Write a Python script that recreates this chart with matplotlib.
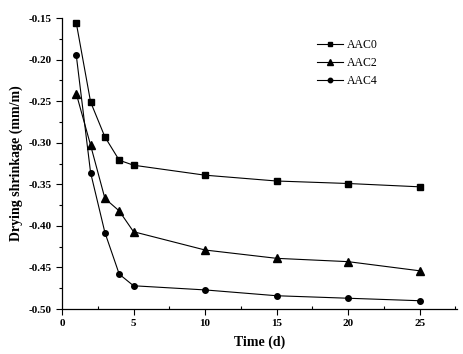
import matplotlib
matplotlib.use("Agg")
import matplotlib.pyplot as plt
from matplotlib.ticker import MultipleLocator

days = [1, 2, 3, 4, 5, 10, 15, 20, 25]
aac0 = [-0.156, -0.251, -0.293, -0.321, -0.327, -0.339, -0.346, -0.349, -0.353]
aac2 = [-0.241, -0.303, -0.367, -0.382, -0.407, -0.429, -0.439, -0.443, -0.454]
aac4 = [-0.195, -0.336, -0.408, -0.458, -0.472, -0.477, -0.484, -0.487, -0.490]

plt.rcParams["font.family"] = ["Liberation Serif", "DejaVu Serif"]

fig = plt.figure(figsize=(4.64, 3.54), dpi=100)
ax = fig.add_axes([0.1336, 0.127, 0.851, 0.822])

ax.plot(days, aac0, "k-", marker="s", markersize=4, linewidth=0.8, label="AAC0")
ax.plot(days, aac2, "k-", marker="^", markersize=5.5, linewidth=0.8, label="AAC2")
ax.plot(days, aac4, "k-", marker="o", markersize=4, linewidth=0.8, label="AAC4")

ax.set_xlim(0, 27.6)
ax.set_ylim(-0.50, -0.15)
ax.xaxis.set_major_locator(MultipleLocator(5))
ax.xaxis.set_minor_locator(MultipleLocator(2.5))
ax.yaxis.set_major_locator(MultipleLocator(0.05))
ax.yaxis.set_minor_locator(MultipleLocator(0.025))
ax.yaxis.set_major_formatter(plt.FuncFormatter(lambda v, p: "%.2f" % v))

for s in ["top", "right"]:
    ax.spines[s].set_visible(False)
for s in ["left", "bottom"]:
    ax.spines[s].set_linewidth(0.9)
ax.tick_params(which="major", direction="out", length=4, width=0.8, labelsize=8)
ax.tick_params(which="minor", direction="out", length=2.5, width=0.8)
ax.tick_params(axis="x", which="minor", direction="in")
for lab in ax.get_xticklabels() + ax.get_yticklabels():
    lab.set_fontweight("bold")

ax.set_xlabel("Time (d)", fontsize=10, fontweight="bold", labelpad=5)
ax.set_ylabel("Drying shrinkage (mm/m)", fontsize=10, fontweight="bold", labelpad=4)

ax.legend(loc="upper left", bbox_to_anchor=(0.62, 0.965), frameon=False,
          fontsize=8.5, handlelength=2.2, handletextpad=0.3, labelspacing=0.5,
          markerscale=0.8)

fig.savefig("out.png", dpi=100)
